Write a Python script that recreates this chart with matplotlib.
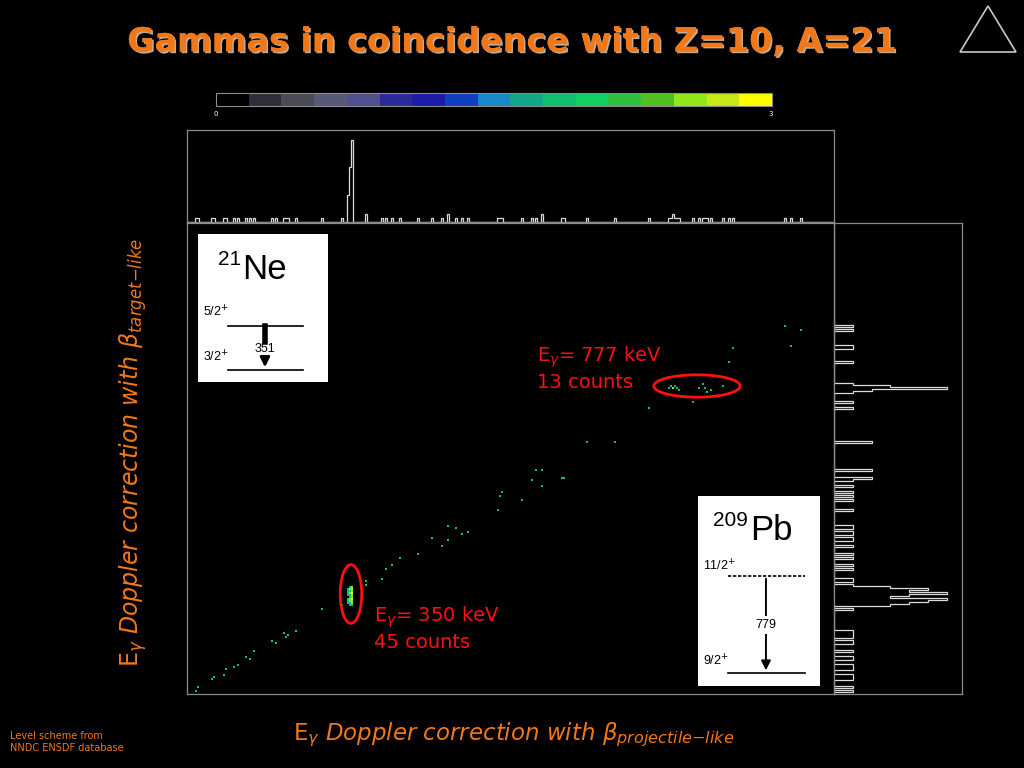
import matplotlib
matplotlib.use('Agg')
import matplotlib.pyplot as plt
import matplotlib.patheffects as pe
import numpy as np
from matplotlib.colors import ListedColormap, Normalize, PowerNorm
from matplotlib.patches import Ellipse, Polygon
from matplotlib.cm import ScalarMappable

plt.rcParams['mathtext.fontset'] = 'dejavusans'

# single events along the diagonal (keV): projectile-like vs target-like correction
diag_x = [150.4, 154.3, 171.2, 173.8, 189.3, 191.9, 202.3, 207.5, 217.9, 223.1,
          227.0, 250.4, 256.8, 265.9, 269.8, 272.4, 281.5, 316.6, 342.5, 372.4,
          372.4, 393.2, 399.7, 407.4, 416.5, 441.2, 459.4, 472.4, 478.9, 489.3,
          478.9, 498.3, 506.1, 545.1, 547.7, 550.3, 576.2, 589.2, 594.4, 602.2,
          602.2, 628.2, 630.8, 659.3, 694.4, 738.5, 795.6, 842.4, 848.9, 916.4,
          924.2, 937.2]
diag_y = [383.9, 389.1, 399.4, 403.3, 405.9, 413.7, 415.0, 417.6, 427.9, 426.6,
          435.7, 449.9, 447.3, 459.0, 453.8, 457.7, 461.6, 490.1, 496.6, 526.3,
          522.5, 528.9, 541.9, 548.4, 556.1, 560.0, 582.0, 570.4, 597.6, 595.0,
          579.4, 587.2, 588.5, 617.0, 635.1, 641.6, 631.2, 657.1, 668.8, 670.1,
          648.1, 659.7, 659.7, 707.6, 707.6, 751.7, 758.2, 811.3, 828.1, 856.6,
          832.0, 852.7]

# 777 keV line (209Pb), 13 counts
pb_x = [764.5, 767.1, 769.7, 772.3, 776.2, 778.8, 804.7, 809.9, 812.5, 815.1, 820.3, 835.9]
pb_y = [776.5, 779.1, 776.5, 779.1, 776.5, 773.9, 776.5, 781.7, 776.5, 771.3, 773.9, 779.1]
pb_n = [1, 1, 2, 1, 1, 1, 1, 1, 1, 1, 1, 1]

# 350 keV line (21Ne), 45 counts: counts per x column over the y rows
ne_cols = [349.3, 351.9, 354.5]
ne_rows = [495.7, 498.3, 500.9, 503.5, 506.1, 508.7, 511.3, 513.9, 516.5, 519.1]
ne_counts = [[0, 1, 1, 1, 0, 1, 1, 1, 1, 0],
             [1, 1, 2, 2, 1, 1, 2, 1, 2, 1],
             [1, 2, 2, 3, 2, 2, 3, 2, 2, 2]]

palette = ['#000000', '#2e2e3a', '#4a4a58', '#585878', '#50508c', '#2a2a98',
           '#1c1ca8', '#1040c0', '#1888c8', '#10a888', '#10c070', '#10d060',
           '#30c040', '#50c020', '#90e818', '#c8e818', '#ffff00']

x_lo, x_hi = 140, 980
y_lo, y_hi = 380, 990
bin_w = 2.6

orange = '#f07818'
red = '#ff1010'
frame = '#8c8c8c'

ev_x = list(diag_x) + list(pb_x)
ev_y = list(diag_y) + list(pb_y)
ev_w = [1] * len(diag_x) + list(pb_n)
for cx, col in zip(ne_cols, ne_counts):
    for ry, n in zip(ne_rows, col):
        if n:
            ev_x.append(cx)
            ev_y.append(ry)
            ev_w.append(n)

xedges = np.arange(x_lo, x_hi + 1, bin_w)
yedges = np.arange(y_lo, y_hi + 1, bin_w)
H, _, _ = np.histogram2d(ev_x, ev_y, bins=[xedges, yedges], weights=ev_w)

cmap = ListedColormap(palette)

fig = plt.figure(figsize=(10.24, 7.68), dpi=100, facecolor='black')


def style(ax):
    ax.set_facecolor('black')
    ax.set_xticks([])
    ax.set_yticks([])
    for s in ax.spines.values():
        s.set_color(frame)
        s.set_linewidth(0.9)


# main 2D histogram
ax = fig.add_axes([187/1024, 74/768, 647/1024, 471/768])
style(ax)
ax.pcolormesh(xedges, yedges, np.ma.masked_equal(H.T, 0), cmap=cmap,
              norm=PowerNorm(0.45, vmin=0, vmax=3))
ax.set_xlim(x_lo, x_hi)
ax.set_ylim(y_lo, y_hi)

ax.add_patch(Ellipse((352.9, 509.5), 28, 76, fill=False, ec=red, lw=2))
ax.add_patch(Ellipse((802.1, 778.9), 112, 29, fill=False, ec=red, lw=2))

# x projection
axt = fig.add_axes([187/1024, 546/768, 647/1024, 92/768])
style(axt)
axt.stairs(H.sum(axis=1), xedges, color='#dcdcdc', lw=0.9)
axt.set_xlim(x_lo, x_hi)
axt.set_ylim(0, 23.5)

# y projection
axr = fig.add_axes([834/1024, 74/768, 128/1024, 471/768])
style(axr)
axr.stairs(H.sum(axis=0), yedges, orientation='horizontal', color='#dcdcdc', lw=0.9)
axr.set_ylim(y_lo, y_hi)
axr.set_xlim(0, 6.8)

# colour scale
axc = fig.add_axes([216/1024, 662/768, 556/1024, 13/768])
cb = fig.colorbar(ScalarMappable(norm=Normalize(0, 3), cmap=cmap), cax=axc,
                  orientation='horizontal')
cb.set_ticks([])
cb.outline.set_edgecolor(frame)
cb.outline.set_linewidth(0.8)
fig.text(216/1024, 654/768, '0', color='white', fontsize=5, ha='center', va='center')
fig.text(771/1024, 654/768, '3', color='white', fontsize=5, ha='center', va='center')

# level scheme insets
inset_font = 'Liberation Sans'


def inset(rect):
    a = fig.add_axes(rect)
    a.set_facecolor('white')
    a.set_xticks([])
    a.set_yticks([])
    for s in a.spines.values():
        s.set_visible(False)
    a.set_xlim(0, 1)
    a.set_ylim(0, 1)
    return a


ne = inset([198/1024, 386/768, 130/1024, 148/768])
ne.text(0.33, 0.83, '21', fontsize=15, ha='right', va='center', family=inset_font)
ne.text(0.34, 0.76, 'Ne', fontsize=25, ha='left', va='center', family=inset_font)
ne.text(0.04, 0.47, r'5/2$^{+}$', fontsize=9, family=inset_font, va='center')
ne.text(0.04, 0.17, r'3/2$^{+}$', fontsize=9, family=inset_font, va='center')
ne.plot([0.23, 0.81], [0.378, 0.378], color='black', lw=1.2)
ne.plot([0.23, 0.81], [0.081, 0.081], color='black', lw=1.2)
ne.plot([0.515, 0.515], [0.378, 0.27], color='black', lw=4)
ne.annotate('', xy=(0.515, 0.081), xytext=(0.515, 0.17),
            arrowprops=dict(arrowstyle='-|>', color='black', lw=2, mutation_scale=14))
ne.text(0.515, 0.225, '351', fontsize=9, family=inset_font, ha='center', va='center')

pb = inset([698/1024, 82/768, 122/1024, 190/768])
pb.text(0.41, 0.87, '209', fontsize=15, ha='right', va='center', family=inset_font)
pb.text(0.43, 0.82, 'Pb', fontsize=25, ha='left', va='center', family=inset_font)
pb.text(0.04, 0.63, r'11/2$^{+}$', fontsize=9, family=inset_font, va='center')
pb.text(0.04, 0.13, r'9/2$^{+}$', fontsize=9, family=inset_font, va='center')
pb.plot([0.246, 0.877], [0.579, 0.579], color='black', lw=1.2, ls=(0, (2, 1)))
pb.plot([0.246, 0.877], [0.068, 0.068], color='black', lw=1.2)
pb.annotate('', xy=(0.557, 0.068), xytext=(0.557, 0.579),
            arrowprops=dict(arrowstyle='-|>', color='black', lw=1.4, mutation_scale=14))
pb.text(0.557, 0.321, '779', fontsize=9, family=inset_font, ha='center', va='center',
        bbox=dict(fc='white', ec='none', pad=2))

# annotations
fig.text(374/1024, 151/768, r'E$_\gamma$= 350 keV', color=red, fontsize=14, va='center')
fig.text(374/1024, 125/768, '45 counts', color=red, fontsize=14, va='center')
fig.text(537/1024, 411/768, r'E$_\gamma$= 777 keV', color=red, fontsize=14, va='center')
fig.text(537/1024, 385/768, '13 counts', color=red, fontsize=14, va='center')

# titles and labels
fig.text(0.5, 726/768, 'Gammas in coincidence with Z=10, A=21', color=orange,
         fontsize=24, fontweight='bold', ha='center', va='center',
         path_effects=[pe.withSimplePatchShadow(offset=(1.2, -1.2), shadow_rgbFace='#f0d8c0',
                                                alpha=0.8), pe.Normal()])
fig.text(514/1024, 33/768,
         r'E$_\gamma$ $\mathit{Doppler\ correction\ with}\ \beta_{\mathit{projectile{-}like}}$',
         color=orange, fontsize=16.5, ha='center', va='center')
fig.text(133/1024, 316/768,
         r'E$_\gamma$ $\mathit{Doppler\ correction\ with}\ \beta_{\mathit{target{-}like}}$',
         color=orange, fontsize=17, ha='center', va='center', rotation=90)
fig.text(10/1024, 26/768, 'Level scheme from\nNNDC ENSDF database', color=orange,
         fontsize=7, ha='left', va='center', linespacing=1.3)

fig.patches.append(Polygon([[960/1024, 716/768], [1016/1024, 716/768], [988/1024, 762/768]],
                           closed=True, fill=False, ec='#c8c8c8', lw=1.2,
                           transform=fig.transFigure, figure=fig))

fig.savefig('out.png', dpi=100, facecolor='black')
